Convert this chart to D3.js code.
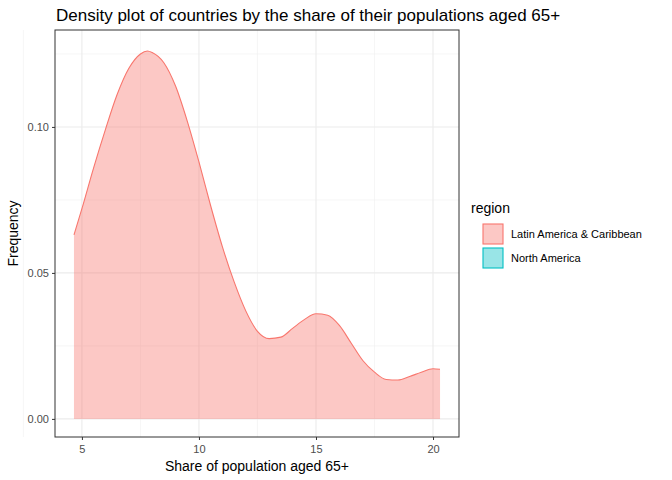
<!DOCTYPE html><html><head><script src="https://cdn.jsdelivr.net/npm/d3@7"></script>
<style>body{margin:0;background:#fff}text{font-family:"Liberation Sans",Arial,sans-serif}</style></head><body><svg width="672" height="480"></svg>
<script>
const xs=[4.66,5,5.5,6,6.5,7,7.5,7.8,8,8.5,9,9.5,10,10.5,11,11.5,12,12.5,13,13.5,14,14.5,15,15.5,16,16.5,17,17.5,18,18.5,19,19.5,20,20.3];
const dens=[0.063,0.072,0.086,0.099,0.111,0.120,0.125,0.126,0.1255,0.122,0.114,0.102,0.088,0.073,0.059,0.047,0.037,0.030,0.0275,0.028,0.031,0.034,0.036,0.0355,0.032,0.026,0.020,0.016,0.0135,0.0133,0.0145,0.016,0.0172,0.0170];
const xTicks=[5,10,15,20], yTicks=[0,0.05,0.10];
const legendLabels=["Latin America & Caribbean","North America"], colors=["#F8766D","#00BFC4"];
const svg=d3.select("svg");
const L=55,R=459,T=30,B=437;
const x=d3.scaleLinear().domain([3.85,21.11]).range([L,R]);
const y=d3.scaleLinear().domain([-0.0062,0.1332]).range([B,T]);
const g=svg.append("g");
// grid
[2.5,7.5,12.5,17.5].forEach(v=>g.append("line").attr("x1",x(v)).attr("x2",x(v)).attr("y1",T).attr("y2",B).attr("stroke","#f0f0f0").attr("stroke-width",0.6));
[0.025,0.075,0.125].forEach(v=>g.append("line").attr("y1",y(v)).attr("y2",y(v)).attr("x1",L).attr("x2",R).attr("stroke","#f0f0f0").attr("stroke-width",0.6));
xTicks.forEach(v=>g.append("line").attr("x1",x(v)).attr("x2",x(v)).attr("y1",T).attr("y2",B).attr("stroke","#ebebeb").attr("stroke-width",1.1));
yTicks.forEach(v=>g.append("line").attr("y1",y(v)).attr("y2",y(v)).attr("x1",L).attr("x2",R).attr("stroke","#ebebeb").attr("stroke-width",1.1));
const pts=xs.map((v,i)=>[v,dens[i]]);
g.append("path").datum(pts).attr("d",d3.area().x(d=>x(d[0])).y0(y(0)).y1(d=>y(d[1])).curve(d3.curveMonotoneX)).attr("fill",colors[0]).attr("fill-opacity",0.4);
g.append("path").datum(pts).attr("d",d3.line().x(d=>x(d[0])).y(d=>y(d[1])).curve(d3.curveMonotoneX)).attr("fill","none").attr("stroke",colors[0]).attr("stroke-width",1.1);
g.append("rect").attr("x",L).attr("y",T).attr("width",R-L).attr("height",B-T).attr("fill","none").attr("stroke","#333").attr("stroke-width",1);
svg.append("g").attr("transform",`translate(0,${B})`).call(d3.axisBottom(x).tickValues(xTicks).tickSize(3).tickFormat(d3.format("d"))).call(a=>{a.select(".domain").remove();a.selectAll("line").attr("stroke","#333");a.selectAll("text").attr("fill","#4d4d4d").attr("font-size",11).attr("dy","0.9em")});
svg.append("g").attr("transform",`translate(${L},0)`).call(d3.axisLeft(y).tickValues(yTicks).tickSize(3).tickFormat(d3.format(".2f"))).call(a=>{a.select(".domain").remove();a.selectAll("line").attr("stroke","#333");a.selectAll("text").attr("fill","#4d4d4d").attr("font-size",11)});
svg.append("text").attr("x",(L+R)/2).attr("y",471).attr("text-anchor","middle").attr("font-size",14).text("Share of population aged 65+");
svg.append("text").attr("transform",`translate(18,${(T+B)/2}) rotate(-90)`).attr("text-anchor","middle").attr("font-size",14).text("Frequency");
svg.append("text").attr("x",56).attr("y",21).attr("font-size",17).text("Density plot of countries by the share of their populations aged 65+");
svg.append("text").attr("x",471).attr("y",213).attr("font-size",14).text("region");
legendLabels.forEach((l,i)=>{const yy=224+i*24;
svg.append("rect").attr("x",483).attr("y",yy).attr("width",20).attr("height",20).attr("fill",colors[i]).attr("fill-opacity",0.4).attr("stroke",colors[i]).attr("stroke-width",1.1);
svg.append("text").attr("x",511).attr("y",yy+14).attr("font-size",11).text(l);});
</script></body></html>
